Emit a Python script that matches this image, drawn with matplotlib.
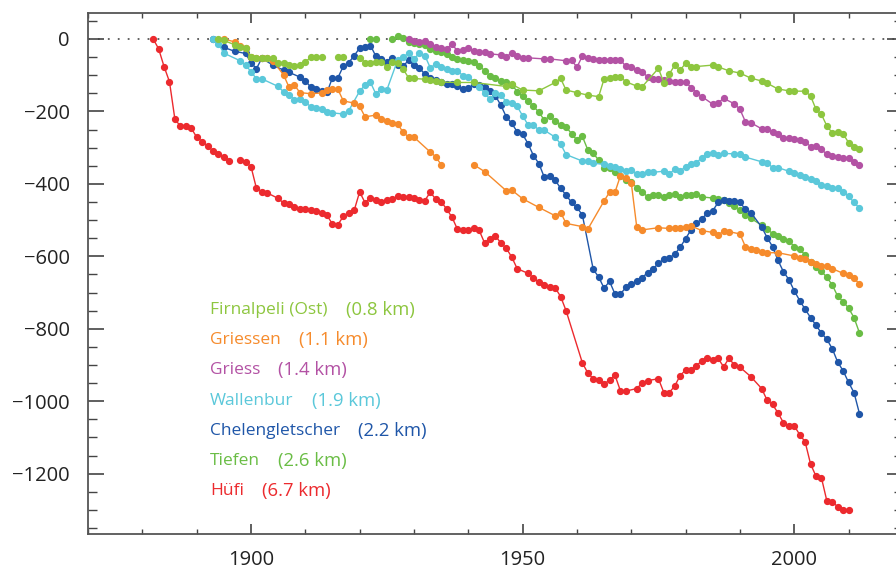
import numpy as np
import matplotlib
matplotlib.use("Agg")
import matplotlib.pyplot as plt
from matplotlib.ticker import MultipleLocator

plt.rcParams['font.family'] = ['Open Sans', 'DejaVu Sans']

nan = np.nan

# ---------------- data ----------------
hufi_years = [1882, 1883, 1884, 1885, 1886, 1887, 1888, 1889, 1890, 1891, 1892, 1893, 1894, 1895, 1896, 1897,
              1898, 1899, 1900, 1901, 1902, 1903, 1905, 1906, 1907, 1908, 1909, 1910, 1911, 1912, 1913, 1914,
              1915, 1916, 1917, 1918, 1919, 1920, 1921, 1922, 1923, 1924, 1925, 1926, 1927, 1928, 1929, 1930,
              1931, 1932, 1933, 1934, 1935, 1936, 1937, 1938, 1939, 1940, 1941, 1942, 1943, 1944, 1945, 1946,
              1947, 1948, 1949, 1951, 1952, 1953, 1954, 1955, 1956, 1957, 1958, 1961, 1962, 1963, 1964, 1965,
              1966, 1967, 1968, 1969, 1971, 1972, 1973, 1975, 1976, 1977, 1978, 1979, 1980, 1981, 1982, 1983,
              1984, 1985, 1986, 1987, 1988, 1989, 1990, 1992, 1994, 1995, 1996, 1997, 1998, 1999, 2000, 2001,
              2002, 2003, 2004, 2005, 2006, 2007, 2008, 2009, 2010]
hufi_values = [0, -27, -76, -118, -222, -240, -240, -246, -271, -283, -295, -309, -318, -327, -337, nan,
               -335, -340, -352, -412, -421, -425, -440, -453, -456, -465, -468, -468, -472, -476, -479, -487,
               -511, -513, -489, -479, -473, -422, -452, -438, -445, -449, -445, -442, -433, -436, -437, -439,
               -444, -446, -423, -442, -449, -469, -492, -525, -527, -527, -522, -528, -563, -551, -544, -563,
               -578, -602, -634, -647, -660, -671, -679, -686, -687, -711, -750, -894, -922, -938, -942, -953,
               -941, -928, -971, -972, -965, -950, -943, -938, -976, -976, -958, -929, -914, -913, -902, -888,
               -882, -887, -882, -905, -881, -901, -906, -932, -965, -997, -1009, -1032, -1059, -1067, -1068, -1092,
               -1112, -1173, -1207, -1211, -1275, -1278, -1291, -1300, -1300]

tiefen_years = [1922, 1923, 1924, 1926, 1927, 1928, 1929, 1930, 1931, 1932, 1933, 1934, 1935, 1936, 1937, 1938,
                1939, 1940, 1941, 1942, 1943, 1944, 1945, 1946, 1947, 1948, 1949, 1950, 1951, 1952, 1953, 1954,
                1955, 1956, 1957, 1958, 1959, 1960, 1961, 1962, 1963, 1964, 1965, 1966, 1967, 1968, 1969, 1970,
                1971, 1972, 1973, 1974, 1975, 1976, 1977, 1978, 1979, 1980, 1981, 1982, 1983, 1985, 1986, 1987,
                1988, 1989, 1990, 1991, 1992, 1994, 1995, 1996, 1997, 1998, 1999, 2000, 2001, 2002, 2003, 2004,
                2005, 2006, 2007, 2008, 2009, 2010, 2011, 2012]
tiefen_values = [0, 0, nan, 0, 7, 4, -8, -12, -15, -17, -28, -32, -36, -42, -49, -55,
                 -59, -61, -63, -74, -87, -102, -107, -117, -120, -126, -145, -158, -171, -186, -202, -224,
                 -213, -227, -237, -243, -261, -279, -269, -306, -316, -334, -355, -357, -367, -378, -390, -396,
                 -410, -421, -436, -432, -430, -436, -432, -428, -436, -432, -432, -429, -436, -439, -441, -444,
                 -452, -460, -472, -486, -495, -514, -525, -537, -545, -552, -557, -573, -581, -596, -615, -629,
                 -641, -658, -679, -710, -725, -743, -769, -811]

chelen_years = [1893, 1895, 1897, 1899, 1900, 1901, 1902, 1904, 1906, 1907, 1909, 1910, 1911, 1912, 1913, 1914,
                1915, 1916, 1917, 1918, 1919, 1920, 1921, 1922, 1923, 1924, 1925, 1926, 1927, 1928, 1929, 1930,
                1931, 1932, 1933, 1934, 1935, 1936, 1937, 1938, 1939, 1940, 1941, 1942, 1943, 1944, 1945, 1946,
                1947, 1948, 1949, 1950, 1951, 1952, 1953, 1954, 1955, 1956, 1957, 1958, 1959, 1960, 1961, 1963,
                1964, 1965, 1966, 1967, 1968, 1969, 1970, 1971, 1972, 1973, 1974, 1975, 1976, 1977, 1978, 1979,
                1980, 1981, 1982, 1983, 1984, 1985, 1986, 1987, 1988, 1989, 1990, 1991, 1992, 1994, 1995, 1996,
                1997, 1998, 1999, 2000, 2001, 2002, 2003, 2004, 2005, 2006, 2007, 2008, 2009, 2010, 2011, 2012]
chelen_values = [0, -23, -34, -40, -65, -82, -53, -72, -86, -92, -105, -115, -133, -139, -143, -147,
                 -107, -107, -75, -65, -46, -25, -22, -18, -48, -56, -63, -52, -73, -75, -59, -71,
                 -80, -97, -109, -112, -118, -123, -125, -130, -139, -136, -125, -127, -132, -144, -157, -183,
                 -215, -233, -256, -263, -289, -322, -344, -382, -378, -390, -412, -431, -451, -465, -486, -636,
                 -657, -688, -669, -704, -704, -686, -677, -669, -659, -645, -635, -619, -608, -604, -594, -575,
                 -551, -527, -509, -496, -481, -474, -451, -444, -446, -446, -451, -470, -479, -519, -548, -573,
                 -611, -642, -664, -695, -722, -746, -769, -790, -812, -829, -855, -892, -916, -948, -976, -1034]

wallen_years = [1893, 1894, 1895, 1898, 1899, 1900, 1901, 1902, 1905, 1906, 1907, 1908, 1909, 1910, 1911, 1912,
                1913, 1914, 1915, 1917, 1918, 1920, 1921, 1922, 1923, 1924, 1925, 1927, 1928, 1929, 1930, 1931,
                1932, 1933, 1934, 1935, 1936, 1937, 1938, 1939, 1940, 1941, 1942, 1943, 1944, 1945, 1946, 1947,
                1948, 1949, 1950, 1951, 1952, 1953, 1954, 1956, 1957, 1958, 1961, 1962, 1963, 1965, 1966, 1967,
                1968, 1969, 1970, 1971, 1972, 1973, 1974, 1976, 1977, 1978, 1979, 1980, 1981, 1982, 1983, 1984,
                1985, 1986, 1987, 1989, 1990, 1991, 1994, 1995, 1996, 1997, 1999, 2000, 2001, 2002, 2003, 2004,
                2005, 2006, 2007, 2008, 2009, 2010, 2011, 2012]
wallen_values = [0, -13, -39, -60, -72, -90, -110, -110, -131, -146, -154, -168, -166, -174, -187, -190,
                 -193, -201, -204, -207, -198, -144, -127, -120, -152, -137, -141, -58, -51, -38, -54, -40,
                 -46, -79, -70, -77, -83, -87, -88, -101, -105, -118, -132, -150, -166, -150, -155, -173,
                 -178, -186, -212, -237, -237, -252, -252, -271, -290, -319, -337, -337, -343, -346, -350, -353,
                 -359, -364, -363, -372, -372, -368, -368, -365, -372, -360, -365, -352, -344, -341, -328, -317,
                 -314, -321, -316, -317, -318, -326, -339, -341, -355, -355, -365, -371, -376, -381, -387, -392,
                 -404, -406, -410, -412, -421, -434, -451, -467]

griess_years = [1929, 1930, 1931, 1932, 1933, 1934, 1935, 1936, 1937, 1938, 1939, 1940, 1941, 1942, 1943, 1944,
                1946, 1947, 1948, 1949, 1950, 1951, 1954, 1955, 1958, 1959, 1960, 1961, 1962, 1963, 1964, 1965,
                1966, 1967, 1968, 1969, 1970, 1971, 1972, 1973, 1974, 1975, 1976, 1977, 1978, 1979, 1980, 1981,
                1982, 1983, 1985, 1986, 1987, 1989, 1990, 1991, 1992, 1994, 1995, 1996, 1997, 1998, 1999, 2000,
                2001, 2002, 2003, 2004, 2005, 2006, 2007, 2008, 2009, 2010, 2011, 2012]
griess_values = [0, -6, -7, -6, -15, -21, -26, -28, -13, -34, -31, -26, -33, -37, -36, -41,
                 -44, -49, -38, -48, -53, -52, -55, -55, -60, -58, -78, -47, -52, -55, -57, -57,
                 -57, -58, -58, -75, -76, -86, -91, -104, -111, -111, -113, -116, -118, -118, -118, -134,
                 -148, -159, -180, -176, -164, -179, -194, -228, -231, -248, -248, -256, -262, -274, -274, -277,
                 -279, -283, -297, -295, -305, -318, -323, -326, -329, -329, -339, -349]

griessen_years = [1895, 1897, 1898, 1899, 1900, 1901, 1902, 1903, 1904, 1906, 1907, 1908, 1909, 1911, 1913, 1914,
                  1915, 1916, 1917, 1919, 1920, 1921, 1923, 1924, 1925, 1926, 1927, 1928, 1929, 1930, 1933, 1934,
                  1935, 1938, 1941, 1943, 1947, 1948, 1950, 1953, 1956, 1957, 1958, 1961, 1962, 1965, 1966, 1967,
                  1968, 1969, 1970, 1971, 1972, 1975, 1977, 1978, 1979, 1980, 1981, 1983, 1985, 1986, 1987, 1988,
                  1990, 1991, 1992, 1993, 1994, 1995, 1997, 2000, 2001, 2002, 2003, 2004, 2005, 2006, 2007, 2009,
                  2010, 2011, 2012]
griessen_values = [0, -8, -18, -25, -50, -52, -53, -53, -60, -99, -133, -127, -148, -151, -149, -142,
                   -139, -139, -171, -177, -186, -215, -210, -220, -226, -231, -234, -258, -270, -271, -312, -325,
                   -347, nan, -347, -366, -419, -417, -441, -465, -488, -479, -509, -518, -525, -447, -423, -423,
                   -378, -385, -397, -518, -527, -521, -523, -523, -523, -518, -516, -529, -534, -541, -530, -532,
                   -538, -573, -581, -583, -589, -590, -590, -599, -604, -606, -615, -622, -626, -627, -634, -647,
                   -651, -661, -676]

firn_years = [1894, 1895, 1897, 1898, 1899, 1900, 1901, 1902, 1903, 1904, 1905, 1906, 1907, 1908, 1909, 1910,
              1911, 1912, 1913, 1914, 1916, 1917, 1918, 1920, 1921, 1922, 1923, 1924, 1925, 1926, 1927, 1928,
              1929, 1930, 1932, 1933, 1934, 1935, 1938, 1941, 1947, 1948, 1950, 1953, 1956, 1957, 1958, 1960,
              1962, 1964, 1965, 1966, 1967, 1968, 1969, 1971, 1972, 1975, 1976, 1977, 1978, 1979, 1980, 1981,
              1982, 1985, 1986, 1988, 1990, 1992, 1994, 1995, 1997, 1999, 2000, 2002, 2003, 2004, 2005, 2006,
              2007, 2008, 2009, 2010, 2011, 2012]
firn_values = [0, -4, -16, -23, -24, -51, -52, -53, -53, -53, -67, -66, -72, -74, -73, -63,
               -51, -51, -51, nan, -51, -51, nan, -52, -65, -65, -63, -64, -77, -64, -66, -83,
               -107, -109, -111, -113, -117, -119, -120, -120, -131, -125, -141, -143, -120, -109, -141, -148,
               -155, -159, -110, -109, -106, -104, -118, -130, -132, -81, -121, -97, -72, -86, -67, -76,
               -76, -72, -77, -88, -94, -108, -116, -122, -138, -143, -144, -144, -157, -194, -208, -240,
               -259, -256, -262, -286, -297, -305]

names = ["Firnalpeli (Ost)", "Griessen", "Griess", "Wallenbur", "Chelengletscher", "Tiefen", "Hüfi"]
lengths = ["(0.8 km)", "(1.1 km)", "(1.4 km)", "(1.9 km)", "(2.2 km)", "(2.6 km)", "(6.7 km)"]
colors = ["#8DC63F", "#F68B2C", "#B352A4", "#5BC8DA", "#1F56A8", "#6ABD45", "#EC2A2E"]

series = [(firn_years, firn_values), (griessen_years, griessen_values), (griess_years, griess_values),
          (wallen_years, wallen_values), (chelen_years, chelen_values), (tiefen_years, tiefen_values),
          (hufi_years, hufi_values)]

# ---------------- figure ----------------
W, H = 896, 569
fig = plt.figure(figsize=(W / 100, H / 100), dpi=100)
left_px, right_px, top_px, bottom_px = 88, 902.9, 12.7, 534
ax = fig.add_axes([left_px / W, 1 - bottom_px / H, (right_px - left_px) / W, (bottom_px - top_px) / H])

ax.set_xlim(1870, 2020)

ax.axhline(0, color="#555555", lw=1.3, ls=(0, (1.0, 4.5)), zorder=1)

for (yrs, vals), col in reversed(list(zip(series, colors))):
    ax.plot(yrs, vals, color=col, lw=1.0, marker="o", ms=4.2, mec=col, mfc=col, zorder=2)

# ticks
ax.xaxis.set_minor_locator(MultipleLocator(10))
ax.yaxis.set_major_locator(MultipleLocator(200))
ax.yaxis.set_minor_locator(MultipleLocator(50))
ax.tick_params(axis="x", which="major", direction="in", length=7.5, width=1.2, top=True, bottom=True,
               labelsize=14.5, pad=11.5, colors="#444444", labelcolor="#222222")
ax.tick_params(axis="x", which="minor", direction="in", length=3.8, width=1.0, top=True, bottom=True,
               colors="#444444")
ax.tick_params(axis="y", which="major", direction="in", length=11.5, width=1.2, left=True, right=True,
               labelsize=14.5, pad=13, colors="#444444", labelcolor="#222222")
ax.tick_params(axis="y", which="minor", direction="in", length=6.5, width=1.0, left=True, right=True,
               colors="#444444")
ax.set_xticks([1900, 1950, 2000])
ax.set_xticklabels(["1900", "1950", "2000"])
yt = list(range(-1200, 1, 200))
ax.set_yticks(yt)
ax.set_yticklabels([f"\u2212{abs(v)}" if v < 0 else f"{v}" for v in yt])
ax.set_ylim(-1366.5, 72.6)

for s in ["left", "bottom", "top", "right"]:
    ax.spines[s].set_color("#555555")
    ax.spines[s].set_linewidth(1.3)

# legend-like labels
x0 = (210 - left_px) / (right_px - left_px)
y_first = (bottom_px - 310) / (bottom_px - top_px)
dy = 30.2 / (bottom_px - top_px)
for i, (nm, ln, col) in enumerate(zip(names, lengths, colors)):
    t = ax.text(x0, y_first - i * dy, nm, color=col, fontsize=12.5, transform=ax.transAxes,
                ha="left", va="center")
    ax.annotate(ln, xy=(1, 0.5), xycoords=t, xytext=(13, 0), textcoords="offset points",
                color=col, fontsize=13.3, ha="left", va="center")

fig.savefig("out.png", dpi=100)
